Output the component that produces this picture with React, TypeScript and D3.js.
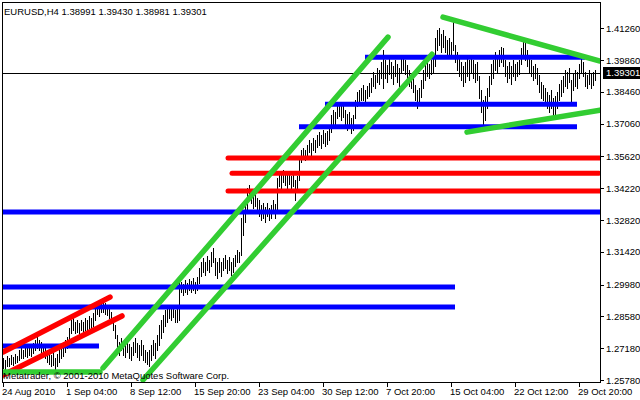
import React from "react";
import * as d3 from "d3";

// ---- data (EURUSD H4) ----
const highs = [
  1.2675,1.2666,1.2684,1.2675,1.2688,1.2679,1.2692,1.2684,1.2710,1.2719,
  1.2710,1.2728,1.2719,1.2732,1.2723,1.2741,1.2754,1.2767,1.2754,1.2745,
  1.2732,1.2719,1.2710,1.2701,1.2688,1.2697,1.2675,1.2692,1.2710,1.2723,
  1.2732,1.2754,1.2767,1.2807,1.2842,1.2851,1.2833,1.2842,1.2829,1.2842,
  1.2833,1.2851,1.2842,1.2860,1.2851,1.2873,1.2890,1.2912,1.2908,1.2917,
  1.2921,1.2917,1.2908,1.2899,1.2877,1.2851,1.2820,1.2776,1.2745,1.2763,
  1.2745,1.2732,1.2754,1.2736,1.2723,1.2745,1.2763,1.2741,1.2732,1.2754,
  1.2732,1.2710,1.2701,1.2710,1.2732,1.2754,1.2741,1.2776,1.2820,1.2842,
  1.2864,1.2886,1.2895,1.2908,1.2895,1.2908,1.2886,1.2904,1.3018,1.3009,
  1.3000,1.3018,1.3005,1.3022,1.3014,1.3027,1.3009,1.3031,1.3071,1.3097,
  1.3115,1.3097,1.3124,1.3106,1.3141,1.3159,1.3115,1.3097,1.3115,1.3097,
  1.3115,1.3128,1.3106,1.3119,1.3097,1.3115,1.3128,1.3150,1.3141,1.3291,
  1.3317,1.3348,1.3423,1.3436,1.3414,1.3392,1.3401,1.3379,1.3370,1.3348,
  1.3357,1.3339,1.3357,1.3335,1.3348,1.3370,1.3352,1.3467,1.3493,1.3484,
  1.3502,1.3489,1.3480,1.3493,1.3476,1.3484,1.3458,1.3476,1.3546,1.3590,
  1.3599,1.3590,1.3612,1.3634,1.3621,1.3643,1.3634,1.3656,1.3669,1.3656,
  1.3678,1.3665,1.3674,1.3687,1.3744,1.3766,1.3757,1.3788,1.3797,1.3784,
  1.3792,1.3766,1.3748,1.3757,1.3731,1.3744,1.3810,1.3845,1.3854,1.3863,
  1.3876,1.3854,1.3872,1.3885,1.3907,1.3933,1.3920,1.3951,1.3942,1.3977,
  1.4030,1.3986,1.3964,1.3995,1.3977,1.3960,1.3986,1.3968,1.3951,1.3995,
  1.4008,1.3986,1.3964,1.3942,1.3924,1.3916,1.3876,1.3854,1.3863,1.3898,
  1.3942,1.3968,1.3977,1.3968,1.3986,1.3995,1.4083,1.4118,1.4127,1.4100,
  1.4118,1.4092,1.4074,1.4083,1.4065,1.4153,1.4052,1.4021,1.3995,1.3977,
  1.3960,1.3977,1.4004,1.3986,1.4004,1.3986,1.3968,1.3977,1.3916,1.3854,
  1.3810,1.3828,1.3863,1.3916,1.3968,1.3986,1.4021,1.4008,1.4030,1.4043,
  1.4039,1.3986,1.3960,1.3977,1.3960,1.3986,1.3968,1.3977,1.3986,1.4039,
  1.4074,1.4061,1.4030,1.4008,1.3986,1.3960,1.3968,1.3951,1.3920,1.3889,
  1.3876,1.3863,1.3845,1.3832,1.3854,1.3819,1.3828,1.3845,1.3880,1.3898,
  1.3916,1.3942,1.3933,1.3951,1.3898,1.3924,1.3942,1.3933,1.3968,1.4004,
  1.3977,1.3933,1.3920,1.3942,1.3924,1.3933,1.3943,
];
const lows = [
  1.2631,1.2622,1.2640,1.2640,1.2648,1.2644,1.2653,1.2657,1.2666,1.2675,
  1.2675,1.2684,1.2679,1.2688,1.2684,1.2697,1.2710,1.2719,1.2710,1.2701,
  1.2692,1.2675,1.2657,1.2648,1.2640,1.2644,1.2622,1.2640,1.2657,1.2675,
  1.2684,1.2701,1.2719,1.2754,1.2785,1.2798,1.2785,1.2789,1.2780,1.2798,
  1.2785,1.2798,1.2794,1.2807,1.2802,1.2816,1.2842,1.2868,1.2860,1.2877,
  1.2877,1.2868,1.2864,1.2851,1.2833,1.2798,1.2763,1.2719,1.2688,1.2710,
  1.2688,1.2679,1.2701,1.2675,1.2666,1.2688,1.2701,1.2679,1.2666,1.2688,
  1.2666,1.2657,1.2648,1.2640,1.2666,1.2688,1.2675,1.2710,1.2732,1.2763,
  1.2789,1.2816,1.2833,1.2851,1.2842,1.2855,1.2833,1.2833,1.2842,1.2965,
  1.2952,1.2965,1.2956,1.2974,1.2965,1.2974,1.2961,1.2974,1.3005,1.3036,
  1.3053,1.3040,1.3062,1.3053,1.3080,1.3097,1.3040,1.3027,1.3053,1.3036,
  1.3062,1.3071,1.3049,1.3062,1.3040,1.3053,1.3080,1.3097,1.3097,1.3128,
  1.3216,1.3273,1.3326,1.3370,1.3357,1.3335,1.3344,1.3317,1.3300,1.3282,
  1.3291,1.3273,1.3300,1.3282,1.3291,1.3313,1.3291,1.3326,1.3432,1.3423,
  1.3449,1.3436,1.3423,1.3440,1.3418,1.3432,1.3370,1.3414,1.3458,1.3537,
  1.3555,1.3546,1.3564,1.3581,1.3568,1.3590,1.3581,1.3603,1.3612,1.3599,
  1.3621,1.3608,1.3617,1.3634,1.3669,1.3704,1.3696,1.3731,1.3740,1.3722,
  1.3735,1.3687,1.3678,1.3687,1.3665,1.3678,1.3731,1.3784,1.3792,1.3810,
  1.3810,1.3801,1.3819,1.3828,1.3845,1.3872,1.3863,1.3889,1.3880,1.3907,
  1.3863,1.3907,1.3889,1.3924,1.3907,1.3880,1.3916,1.3889,1.3872,1.3933,
  1.3942,1.3924,1.3898,1.3872,1.3863,1.3845,1.3810,1.3775,1.3792,1.3823,
  1.3863,1.3898,1.3916,1.3907,1.3924,1.3933,1.3960,1.4030,1.4052,1.4021,
  1.4043,1.4021,1.4004,1.4012,1.3995,1.4030,1.3977,1.3942,1.3916,1.3898,
  1.3872,1.3889,1.3916,1.3898,1.3933,1.3907,1.3889,1.3898,1.3819,1.3757,
  1.3704,1.3722,1.3775,1.3828,1.3880,1.3907,1.3942,1.3933,1.3960,1.3977,
  1.3960,1.3916,1.3889,1.3907,1.3880,1.3916,1.3898,1.3916,1.3924,1.3968,
  1.4004,1.3986,1.3960,1.3933,1.3916,1.3898,1.3907,1.3880,1.3845,1.3819,
  1.3810,1.3792,1.3775,1.3757,1.3775,1.3744,1.3748,1.3775,1.3810,1.3828,
  1.3845,1.3872,1.3863,1.3889,1.3801,1.3854,1.3872,1.3863,1.3907,1.3933,
  1.3916,1.3872,1.3863,1.3880,1.3863,1.3876,1.3898,
];

const title = "EURUSD,H4  1.38991 1.39430 1.38981 1.39301";
const lastPrice = 1.39301;
const priceTicks = [1.4126, 1.3986, 1.3846, 1.3706, 1.3562, 1.3422, 1.3282, 1.3142, 1.2998, 1.2858, 1.2718, 1.2578];
const timeTickIdx = [0, 32, 64, 96, 128, 160, 192, 224, 256, 288];
const timeTickLabels = ["24 Aug 2010", "1 Sep 04:00", "8 Sep 12:00", "15 Sep 20:00", "23 Sep 04:00", "30 Sep 12:00", "7 Oct 20:00", "15 Oct 04:00", "22 Oct 12:00", "29 Oct 20:00"];

// horizontal levels: [price, fromIdx, toIdx]
const blueLevels: [number, number, number][] = [
  [1.3999, 181, 291],
  [1.3792, 161, 287],
  [1.3693, 148, 287],
  [1.3317, -0.5, 298.5],
  [1.2987, -0.5, 226],
  [1.2899, -0.5, 226],
  [1.2728, -0.5, 48],
];
const redLevels: [number, number, number][] = [
  [1.3555, 112.5, 298.5],
  [1.3488, 114.5, 298],
  [1.3410, 112.5, 298.5],
];
// trend lines: [idx1, price1, idx2, price2]
const redTrends: [number, number, number, number][] = [
  [0, 1.2701, 53.5, 1.2943],
  [0, 1.2600, 59.5, 1.2860],
];
const greenTrends: [number, number, number, number][] = [
  [0, 1.2613, 48.5, 1.2613],
  [50, 1.2631, 192.5, 1.4087],
  [70, 1.2578, 214.5, 1.4012],
  [220, 1.4175, 298.5, 1.3982],
  [232, 1.3669, 298.5, 1.3766],
];

const W = 640, H = 400;
const L = 2, R = 600, T = 2, B = 382;
const FONT = "'Liberation Sans', Arial, sans-serif";

export default function App() {
  const x = d3.scaleLinear().domain([0, 32]).range([3, 67]);
  const y = d3.scaleLinear().domain([1.2578, 1.4126]).range([380, 28.3]);
  const line = (a: [number, number, number, number]) =>
    d3.line()([[x(a[0]), y(a[1])], [x(a[2]), y(a[3])]]) || "";

  return (
    <div style={{ position: "fixed", left: 0, top: 0 }}>
      <svg width={W} height={H} style={{ display: "block", background: "#fff" }}>
        <defs>
          <clipPath id="plot">
            <rect x={L} y={T} width={R - L} height={B - T} />
          </clipPath>
        </defs>
        <rect x={0} y={0} width={W} height={H} fill="#fff" />
        <g clipPath="url(#plot)">
          {/* current price line */}
          <line x1={L} x2={R} y1={Math.round(y(lastPrice)) + 0.5} y2={Math.round(y(lastPrice)) + 0.5} stroke="#000" strokeWidth={1} />
          {/* bars */}
          {highs.map((h, i) => (
            <line key={i} x1={Math.round(x(i)) + 0.5} x2={Math.round(x(i)) + 0.5} y1={Math.round(y(h))} y2={Math.round(y(lows[i])) + 1} stroke="#000" strokeWidth={1} />
          ))}
          {blueLevels.map((b, k) => (
            <line key={"b" + k} x1={x(b[1])} x2={x(b[2])} y1={y(b[0])} y2={y(b[0])} stroke="#0000ff" strokeWidth={5} />
          ))}
          {redLevels.map((b, k) => (
            <line key={"r" + k} x1={x(b[1])} x2={x(b[2])} y1={y(b[0])} y2={y(b[0])} stroke="#ff0000" strokeWidth={5} strokeLinecap="round" />
          ))}
          {redTrends.map((t, k) => (
            <path key={"rt" + k} d={line(t)} stroke="#ff0000" strokeWidth={5.5} strokeLinecap="round" fill="none" />
          ))}
          {greenTrends.map((t, k) => (
            <path key={"gt" + k} d={line(t)} stroke="#32cd32" strokeWidth={5.5} strokeLinecap="round" fill="none" />
          ))}
        </g>
        {/* frame */}
        <rect x={L + 0.5} y={T + 0.5} width={R - L} height={B - T} fill="none" stroke="#000" strokeWidth={1} />
        {/* texts */}
        <text x={4} y={15} fontFamily={FONT} fontSize={9.5} fill="#000">{title}</text>
        <text x={3} y={379} fontFamily={FONT} fontSize={9.5} fill="#000">Metatrader, © 2001-2010 MetaQuotes Software Corp.</text>
        {/* price axis */}
        {priceTicks.map((p, k) => (
          <g key={"pt" + k}>
            <line x1={R} x2={R + 4} y1={Math.round(y(p)) + 0.5} y2={Math.round(y(p)) + 0.5} stroke="#000" />
            <text x={606} y={y(p) + 3.5} fontFamily={FONT} fontSize={9.5} fill="#000">{p.toFixed(5)}</text>
          </g>
        ))}
        <rect x={603} y={Math.round(y(lastPrice)) - 6} width={37} height={12} fill="#000" />
        <text x={606} y={y(lastPrice) + 3.5} fontFamily={FONT} fontSize={9.5} fill="#fff">{lastPrice.toFixed(5)}</text>
        {/* time axis */}
        {timeTickIdx.map((t, k) => (
          <g key={"tt" + k}>
            <line x1={Math.round(x(t)) + 0.5} x2={Math.round(x(t)) + 0.5} y1={B} y2={B + 5} stroke="#000" />
            <text x={x(t) - 1} y={395} fontFamily={FONT} fontSize={9.5} fill="#000">{timeTickLabels[k]}</text>
          </g>
        ))}
      </svg>
    </div>
  );
}
